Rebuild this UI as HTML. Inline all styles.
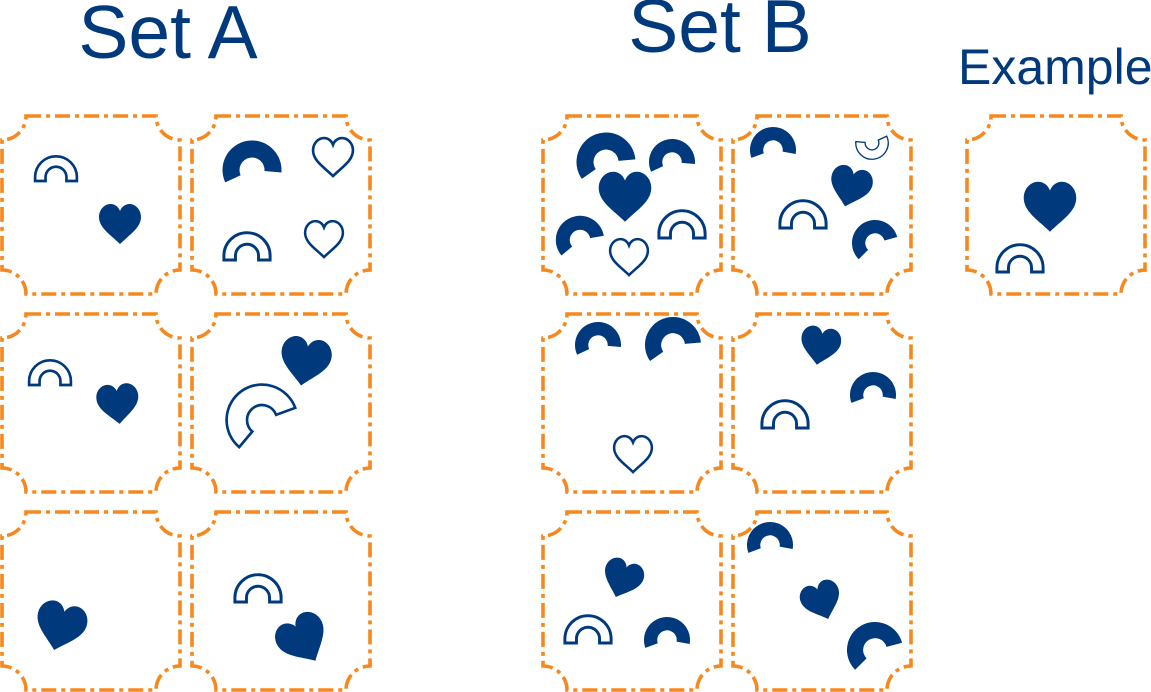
<!DOCTYPE html>
<html><head><meta charset="utf-8"><style>
html,body{margin:0;padding:0;background:#fff;}
svg{display:block;}
text{font-family:"Liberation Sans",sans-serif;fill:#003A7D;}
</style></head><body>
<svg width="1151" height="692" viewBox="0 0 1151 692" xmlns="http://www.w3.org/2000/svg">
<defs>
<path id="h" d="M0,19 C-9,10 -21,3 -21,-8 C-21,-16 -15,-21 -9.5,-21 C-5,-21 -1.5,-18 0,-14 C1.5,-18 5,-21 9.5,-21 C15,-21 21,-16 21,-8 C21,3 9,10 0,19Z"/>
<path id="rb" d="M-22,0 L-22,-4 A22,22 0 0 1 22,-4 L22,0 L11,0 L11,-4 A11,11 0 0 0 -11,-4 L-11,0 Z"/>
<path id="ar" d="M-28.5,7.6 A29.5,29.5 0 1 1 28.5,7.6 L12.1,3.2 A12.5,12.5 0 1 0 -12.1,3.2 Z" transform="rotate(-25)"/>
<g id="card"><path d="M24,0 L154,0 A24,24 0 0 0 178,24 L178,154 A24,24 0 0 0 154,178 L24,178 A24,24 0 0 0 0,154 L0,24 A24,24 0 0 0 24,0Z" fill="none" stroke="#F5891F" stroke-width="3.6" stroke-dasharray="15 5 4 5"/></g>
</defs>
<text x="168" y="58" font-size="75" text-anchor="middle">Set A</text>
<text x="720" y="52" font-size="75" text-anchor="middle">Set B</text>
<text x="958" y="84" font-size="50">Example</text>

<use href="#card" x="2" y="116"/><use href="#card" x="192" y="116"/>
<use href="#card" x="2" y="314"/><use href="#card" x="192" y="314"/>
<use href="#card" x="2" y="512"/><use href="#card" x="192" y="512"/>
<use href="#card" x="543" y="116"/><use href="#card" x="733" y="116"/>
<use href="#card" x="543" y="314"/><use href="#card" x="733" y="314"/>
<use href="#card" x="543" y="512"/><use href="#card" x="733" y="512"/>
<use href="#card" x="967" y="116"/>

<g fill="#003A7D">
<use href="#h" transform="translate(120,225) scale(1)"/>
<use href="#ar" transform="translate(252,170) rotate(15) scale(1.0)"/>
<use href="#h" transform="translate(118,405) rotate(-5) scale(1)"/>
<use href="#h" transform="translate(305,363) rotate(10) scale(1.2)"/>
<use href="#h" transform="translate(60,628) rotate(15) scale(1.2)"/>
<use href="#h" transform="translate(304,641) rotate(-30) scale(1.2)"/>
<use href="#ar" transform="translate(606,162) rotate(5) scale(1.0)"/>
<use href="#ar" transform="translate(672,162) rotate(15) scale(0.78)"/>
<use href="#h" transform="translate(625,198) scale(1.25)"/>
<use href="#ar" transform="translate(580,240) rotate(0) scale(0.82)"/>
<use href="#ar" transform="translate(773,150) rotate(20) scale(0.78)"/>
<use href="#h" transform="translate(850,188) rotate(15) scale(1)"/>
<use href="#ar" transform="translate(875,243) rotate(-5) scale(0.78)"/>
<use href="#ar" transform="translate(598,345) rotate(15) scale(0.78)"/>
<use href="#ar" transform="translate(673,345) rotate(5) scale(0.95)"/>
<use href="#h" transform="translate(820,347) rotate(10) scale(0.95)"/>
<use href="#ar" transform="translate(873,395) rotate(20) scale(0.78)"/>
<use href="#h" transform="translate(622,580) rotate(20) scale(0.95)"/>
<use href="#ar" transform="translate(667,640) rotate(20) scale(0.78)"/>
<use href="#ar" transform="translate(770,545) rotate(20) scale(0.78)"/>
<use href="#h" transform="translate(822,602) rotate(-20) scale(0.95)"/>
<use href="#ar" transform="translate(875,650) rotate(-5) scale(0.95)"/>
<use href="#h" transform="translate(1050,208) scale(1.25)"/>
</g>

<g fill="#fff" stroke="#003A7D" stroke-width="2.8">
<use href="#rb" transform="translate(56,181) scale(0.95)"/>
<use href="#h" transform="translate(333,158) scale(0.95)"/>
<use href="#rb" transform="translate(247,260) scale(1.05)"/>
<use href="#h" transform="translate(324,240) scale(0.9)"/>
<use href="#rb" transform="translate(50,385) scale(0.95)"/>
<use href="#ar" transform="translate(262,420) rotate(-10) scale(1.2)" stroke-width="2.2"/>
<use href="#rb" transform="translate(258,602) scale(1.05)"/>
<use href="#rb" transform="translate(682,238) scale(1.05)"/>
<use href="#h" transform="translate(629,258) scale(0.9)"/>
<use href="#ar" transform="translate(872,143) rotate(195) scale(0.55)" stroke-width="2.4"/>
<use href="#rb" transform="translate(803,228) scale(1.05)"/>
<use href="#h" transform="translate(633,455) scale(0.9)"/>
<use href="#rb" transform="translate(785,428) scale(1.05)"/>
<use href="#rb" transform="translate(588,643) scale(1.05)"/>
<use href="#rb" transform="translate(1020,272) scale(1.05)"/>
</g>
</svg>
</body></html>
